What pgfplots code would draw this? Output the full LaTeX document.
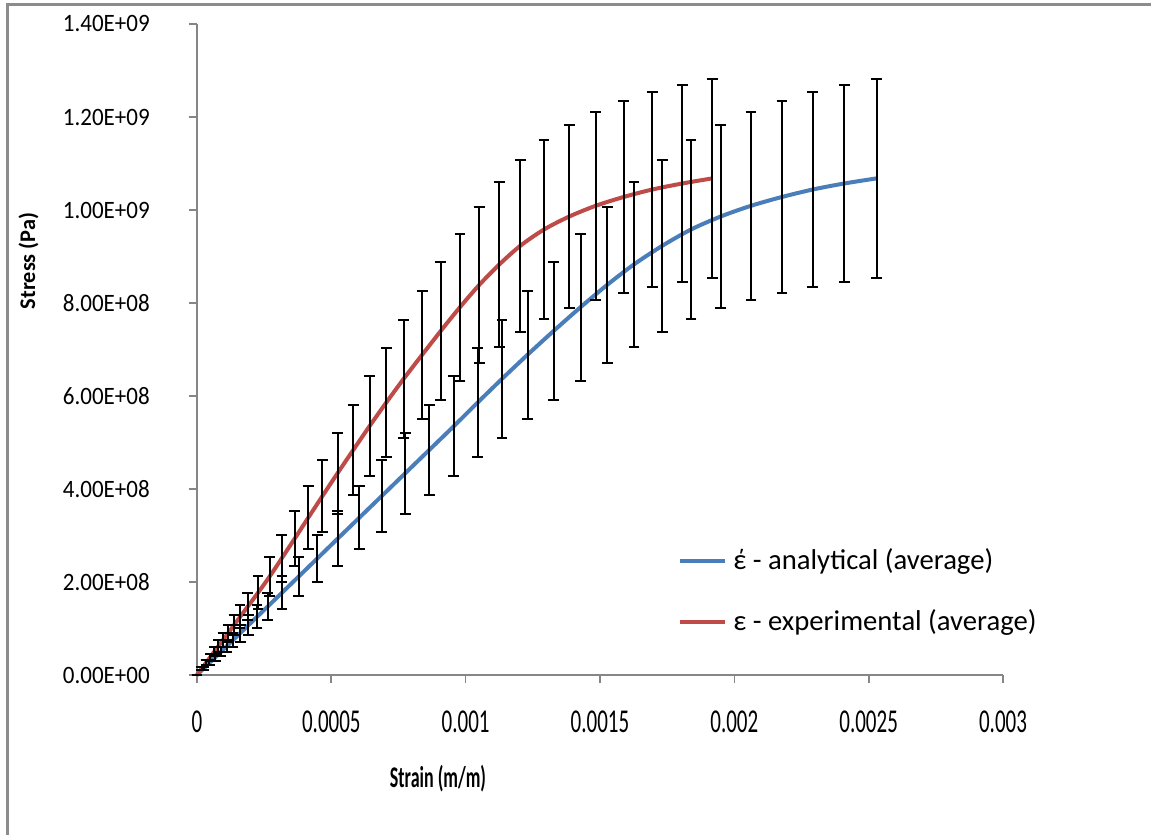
\documentclass[border=0pt]{standalone}
\usepackage{pgfplots}
\pgfplotsset{compat=1.18}
\usepackage{pgfplotstable}
\usepackage{fontspec}
\setmainfont{Carlito}
\definecolor{xlblue}{HTML}{4A7EBB}
\definecolor{xlred}{HTML}{BE4B48}
\definecolor{framegray}{HTML}{8C8C8C}
\definecolor{axgray}{HTML}{868686}
\newcommand\xsx[1]{\scalebox{0.63}[1]{#1}}
\newcommand\ysx[1]{\scalebox{0.92}[1]{#1}}

\pgfplotstableread{
x y
0 0
1.79e-5 1.4e7
3.35e-5 2.6e7
4.88e-5 3.8e7
6.44e-5 5.0e7
7.97e-5 6.2e7
9.64e-5 7.5e7
1.158e-4 9.0e7
1.373e-4 1.07e8
1.604e-4 1.25e8
1.887e-4 1.47e8
2.274e-4 1.77e8
2.706e-4 2.12e8
3.156e-4 2.51e8
3.633e-4 2.93e8
4.139e-4 3.38e8
4.671e-4 3.85e8
5.233e-4 4.34e8
5.818e-4 4.84e8
6.421e-4 5.35e8
7.046e-4 5.86e8
7.694e-4 6.37e8
8.386e-4 6.89e8
9.075e-4 7.40e8
9.789e-4 7.91e8
1.0508e-3 8.39e8
1.1256e-3 8.83e8
1.2034e-3 9.23e8
1.2916e-3 9.58e8
1.3858e-3 9.86e8
1.4840e-3 1.009e9
1.5882e-3 1.028e9
1.6947e-3 1.044e9
1.8064e-3 1.057e9
1.9180e-3 1.068e9
}\redtab

\pgfplotstableread{
x y
0 0
2.49e-5 1.4e7
4.65e-5 2.6e7
6.77e-5 3.8e7
8.93e-5 5.0e7
1.109e-4 6.2e7
1.340e-4 7.5e7
1.608e-4 9.0e7
1.913e-4 1.07e8
2.233e-4 1.25e8
2.628e-4 1.47e8
3.164e-4 1.77e8
3.789e-4 2.12e8
4.485e-4 2.51e8
5.233e-4 2.93e8
6.037e-4 3.38e8
6.878e-4 3.85e8
7.753e-4 4.34e8
8.647e-4 4.84e8
9.558e-4 5.35e8
1.0448e-3 5.86e8
1.1356e-3 6.37e8
1.2309e-3 6.89e8
1.3277e-3 7.40e8
1.4278e-3 7.91e8
1.5268e-3 8.39e8
1.6266e-3 8.83e8
1.7319e-3 9.23e8
1.8387e-3 9.58e8
1.9493e-3 9.86e8
2.0620e-3 1.009e9
2.1774e-3 1.028e9
2.2917e-3 1.044e9
2.4093e-3 1.057e9
2.5299e-3 1.068e9
}\bluetab

\begin{document}
\begin{tikzpicture}
\useasboundingbox (-59.1pt,-48pt) rectangle (286.2pt,202.5pt);
\fill[white] (-59.1pt,-48pt) rectangle (286.2pt,202.5pt);
\draw[framegray, line width=0.9pt] (-56.7pt,-49pt) -- (-56.7pt,201pt) -- (287pt,201pt);
\begin{axis}[
  scale only axis,
  width=241.8pt, height=195.3pt,
  xmin=0, xmax=0.003, ymin=0, ymax=1.4e9,
  axis lines*=left,
  axis line style={-, axgray, line width=0.5pt},
  tick style={axgray, line width=0.5pt},
  tick align=outside,
  major tick length=2.5pt,
  scaled x ticks=false, scaled y ticks=false,
  xtick={0,0.0005,0.001,0.0015,0.002,0.0025,0.003},
  xticklabels={\xsx{0},\xsx{0.0005},\xsx{0.001},\xsx{0.0015},\xsx{0.002},\xsx{0.0025},\xsx{0.003}},
  ytick={0,2e8,4e8,6e8,8e8,1e9,1.2e9,1.4e9},
  yticklabels={\ysx{0.00E+00},\ysx{2.00E+08},\ysx{4.00E+08},\ysx{6.00E+08},\ysx{8.00E+08},\ysx{1.00E+09},\ysx{1.20E+09},\ysx{1.40E+09}},
  yticklabel style={font=\fontsize{7.5}{9}\selectfont, anchor=east, inner sep=0pt, xshift=-11.5pt},
  xticklabel style={font=\fontsize{10}{12}\selectfont, anchor=north, inner sep=0pt, yshift=-8pt},
  xlabel={\scalebox{0.6}[1]{\textbf{Strain (m/m)}}},
  ylabel={\textbf{Stress (Pa)}},
  xlabel style={font=\fontsize{9}{11}\selectfont, at={(rel axis cs:0.299,0)}, anchor=center, yshift=-31.2pt},
  ylabel style={font=\fontsize{6.7}{8}\selectfont, at={(rel axis cs:-0.209,0.636)}, anchor=center},
  clip=false,
  legend style={draw=none, fill=none, inner sep=0pt, at={(rel axis cs:0.5955,0.128)}, anchor=west,
    font=\fontsize{8.6}{10}\selectfont, row sep=6.5pt, cells={anchor=west}},
  legend cell align=left,
  legend image code/.code={\draw[#1] (0pt,0pt) -- (13.5pt,0pt);},
]
\addplot[xlblue, line width=1.2pt, smooth, mark=none] table[x=x,y=y] {\bluetab};
\addlegendentry{έ - analytical (average)}
\addplot[xlred, line width=1.2pt, smooth, mark=none] table[x=x,y=y] {\redtab};
\addlegendentry{ε - experimental (average)}
\addplot[draw=none, mark=none, forget plot, error bars/.cd, y dir=both, y fixed relative=0.2,
  error mark=-, error bar style={black, line width=0.6pt, solid},
  error mark options={black, line width=0.6pt, mark size=1.6pt, rotate=90}] table[x=x,y=y] {\bluetab};
\addplot[draw=none, mark=none, forget plot, error bars/.cd, y dir=both, y fixed relative=0.2,
  error mark=-, error bar style={black, line width=0.6pt, solid},
  error mark options={black, line width=0.6pt, mark size=1.6pt, rotate=90}] table[x=x,y=y] {\redtab};
\end{axis}
\end{tikzpicture}
\end{document}
